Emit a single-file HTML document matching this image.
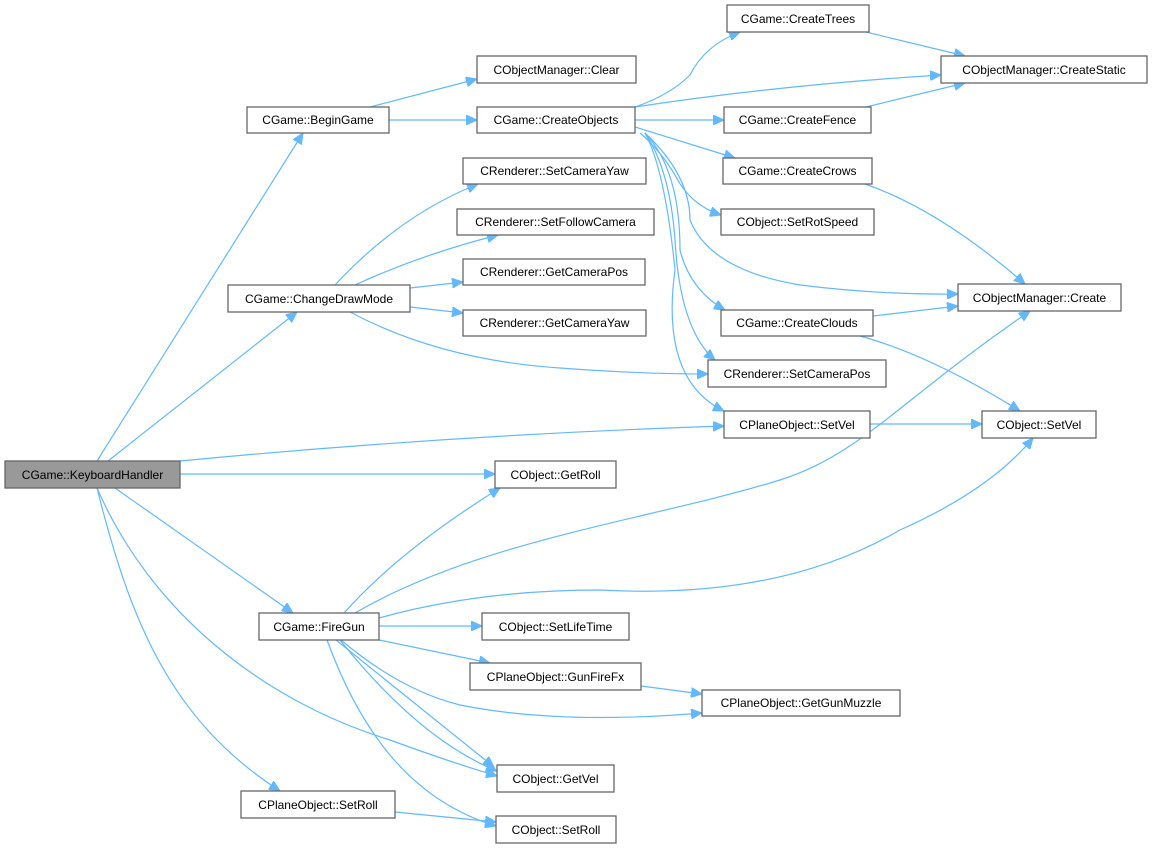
<!DOCTYPE html>
<html><head><meta charset="utf-8"><style>
html,body{margin:0;padding:0;background:#fff;width:1153px;height:848px;overflow:hidden}
svg{display:block}
text{font-family:"Liberation Sans",sans-serif;font-size:12px;fill:#000}
.n{fill:#fff;stroke:#666;stroke-width:1.3}
.e{fill:none;stroke:#63b8ff;stroke-width:1.2}
</style></head><body>
<svg width="1153" height="848" viewBox="0 0 1153 848">
<defs><marker id="a" markerUnits="userSpaceOnUse" markerWidth="12" markerHeight="10" refX="11" refY="5" orient="auto"><path d="M0,0 L11,5 L0,10 z" fill="#63b8ff" stroke="#63b8ff"/></marker></defs>
<g class="e" marker-end="url(#a)">
<path d="M97,461 L303,133"/>
<path d="M108,461 L297,312"/>
<path d="M180,461 Q450,435 724,426"/>
<path d="M180,474 L495,474"/>
<path d="M115,488 L293,613"/>
<path d="M97,488 C150,610 260,700 390,740 Q450,762 497,776"/>
<path d="M97,488 C130,620 170,720 280,791"/>
<path d="M389,120 L477,120"/>
<path d="M370,107 L477,79"/>
<path d="M335,285 Q400,215 478,184"/>
<path d="M355,285 Q420,255 498,235"/>
<path d="M410,288 L463,282"/>
<path d="M410,307 L463,313"/>
<path d="M350,312 Q440,360 560,368 Q640,374 708,374"/>
<path d="M635,107 Q670,95 690,75 Q705,45 740,32"/>
<path d="M635,107 Q780,85 941,75"/>
<path d="M635,120 L724,120"/>
<path d="M635,127 L735,158"/>
<path d="M640,133 Q660,150 675,175 Q690,205 721,215"/>
<path d="M645,133 Q690,175 690,220 Q710,270 800,285 Q880,295 958,294"/>
<path d="M645,133 Q680,170 680,250 Q690,290 725,310"/>
<path d="M645,133 Q670,170 675,240 Q680,330 715,360"/>
<path d="M645,133 Q665,170 675,270 Q660,380 724,411"/>
<path d="M866,32 L965,56"/>
<path d="M866,107 L965,83"/>
<path d="M865,184 Q940,210 1025,284"/>
<path d="M873,316 L958,306"/>
<path d="M860,336 Q930,355 1020,411"/>
<path d="M870,424 L982,424"/>
<path d="M344,613 Q400,550 500,488"/>
<path d="M355,613 C480,540 650,520 780,480 C860,455 900,400 1030,311"/>
<path d="M379,618 Q480,590 600,590 Q780,600 900,530 Q990,490 1033,438"/>
<path d="M379,626 L482,626"/>
<path d="M379,640 L490,663"/>
<path d="M341,640 Q400,690 460,705 Q560,725 702,713"/>
<path d="M336,640 L494,767"/>
<path d="M340,640 Q420,740 497,771"/>
<path d="M327,640 C360,730 410,800 496,826"/>
<path d="M641,686 L702,694"/>
<path d="M395,812 L496,822"/>
</g>
<g>
<rect x="5" y="461" width="175" height="27" fill="#999" stroke="#666" stroke-width="1.3"/>
<text x="92.5" y="479" text-anchor="middle">CGame::KeyboardHandler</text>
</g>
<g text-anchor="middle">
<rect class="n" x="247" y="107" width="142" height="26"/><text x="318" y="124">CGame::BeginGame</text>
<rect class="n" x="228" y="285" width="182" height="27"/><text x="319" y="303">CGame::ChangeDrawMode</text>
<rect class="n" x="259" y="613" width="120" height="27"/><text x="319" y="631">CGame::FireGun</text>
<rect class="n" x="241" y="791" width="154" height="27"/><text x="318" y="809">CPlaneObject::SetRoll</text>
<rect class="n" x="477" y="56" width="159" height="27"/><text x="556.5" y="74">CObjectManager::Clear</text>
<rect class="n" x="477" y="107" width="158" height="26"/><text x="556" y="124">CGame::CreateObjects</text>
<rect class="n" x="463" y="158" width="183" height="26"/><text x="554.5" y="175">CRenderer::SetCameraYaw</text>
<rect class="n" x="457" y="209" width="197" height="26"/><text x="555.5" y="226">CRenderer::SetFollowCamera</text>
<rect class="n" x="463" y="259" width="182" height="26"/><text x="554" y="276">CRenderer::GetCameraPos</text>
<rect class="n" x="463" y="310" width="183" height="26"/><text x="554.5" y="327">CRenderer::GetCameraYaw</text>
<rect class="n" x="495" y="461" width="121" height="27"/><text x="555.5" y="479">CObject::GetRoll</text>
<rect class="n" x="482" y="613" width="147" height="27"/><text x="555.5" y="631">CObject::SetLifeTime</text>
<rect class="n" x="470" y="663" width="171" height="27"/><text x="555.5" y="681">CPlaneObject::GunFireFx</text>
<rect class="n" x="497" y="765" width="117" height="27"/><text x="555.5" y="783">CObject::GetVel</text>
<rect class="n" x="496" y="816" width="120" height="27"/><text x="556" y="834">CObject::SetRoll</text>
<rect class="n" x="727" y="5" width="142" height="27"/><text x="798" y="23">CGame::CreateTrees</text>
<rect class="n" x="724" y="107" width="147" height="26"/><text x="797.5" y="124">CGame::CreateFence</text>
<rect class="n" x="723" y="158" width="149" height="26"/><text x="797.5" y="175">CGame::CreateCrows</text>
<rect class="n" x="721" y="209" width="153" height="26"/><text x="797.5" y="226">CObject::SetRotSpeed</text>
<rect class="n" x="721" y="310" width="152" height="26"/><text x="797" y="327">CGame::CreateClouds</text>
<rect class="n" x="708" y="360" width="178" height="27"/><text x="797" y="378">CRenderer::SetCameraPos</text>
<rect class="n" x="724" y="411" width="146" height="27"/><text x="797" y="429">CPlaneObject::SetVel</text>
<rect class="n" x="702" y="690" width="198" height="26"/><text x="801" y="707">CPlaneObject::GetGunMuzzle</text>
<rect class="n" x="941" y="56" width="206" height="27"/><text x="1044" y="74">CObjectManager::CreateStatic</text>
<rect class="n" x="958" y="284" width="163" height="27"/><text x="1039.5" y="302">CObjectManager::Create</text>
<rect class="n" x="982" y="411" width="114" height="27"/><text x="1039" y="429">CObject::SetVel</text>
</g>
</svg>
</body></html>
